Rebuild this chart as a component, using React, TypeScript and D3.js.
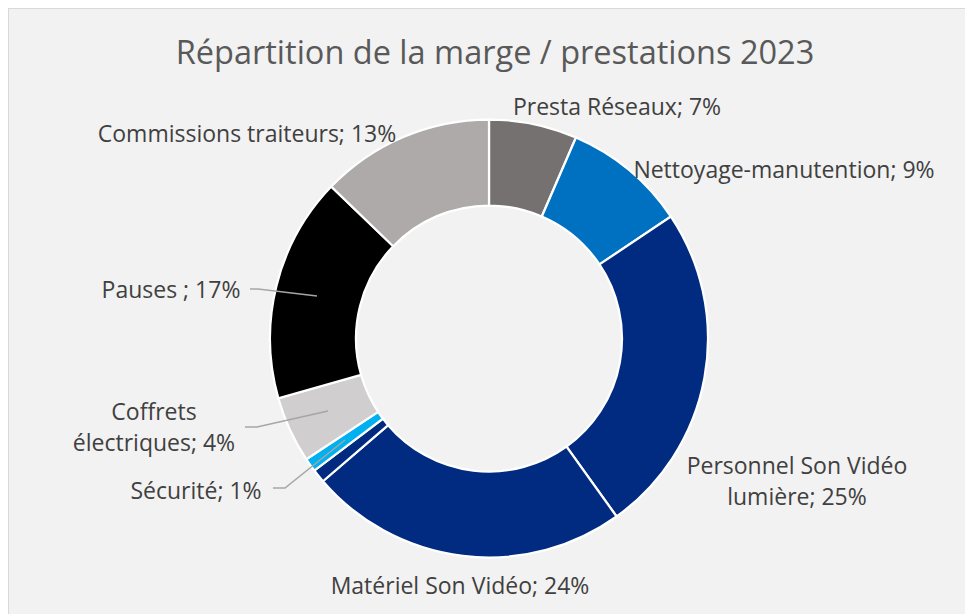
import React from "react";
import * as d3 from "d3";

const categories = [
  "Presta Réseaux",
  "Nettoyage-manutention",
  "Personnel Son Vidéo lumière",
  "Matériel Son Vidéo",
  "Autre",
  "Sécurité",
  "Coffrets électriques",
  "Pauses ",
  "Commissions traiteurs",
];
const values = [6.5, 9.1, 24.5, 23.6, 1.0, 1.0, 4.9, 16.6, 12.8];
const percentLabels = ["7%", "9%", "25%", "24%", "", "1%", "4%", "17%", "13%"];
const colors = [
  "#767171",
  "#0070C0",
  "#002B80",
  "#002B80",
  "#002B80",
  "#00B0F0",
  "#D0CECE",
  "#000000",
  "#AEAAAA",
];

const W = 965;
const H = 614;
const cx = 489;
const cy = 338.5;
const outerR = 219;
const innerR = 133;

type LabelLayout = {
  lines: string[];
  x: number;
  y: number;
  leader?: [number, number][];
};

const layouts: (LabelLayout | null)[] = [
  { lines: [`${categories[0]}; ${percentLabels[0]}`], x: 617, y: 115 },
  { lines: [`${categories[1]}; ${percentLabels[1]}`], x: 784, y: 178 },
  { lines: ["Personnel Son Vidéo", `lumière; ${percentLabels[2]}`], x: 797, y: 474 },
  { lines: [`${categories[3]}; ${percentLabels[3]}`], x: 460, y: 594 },
  null,
  {
    lines: [`${categories[5]}; ${percentLabels[5]}`],
    x: 196,
    y: 499,
    leader: [[273, 488], [285, 488], [345, 440]],
  },
  {
    lines: ["Coffrets", `électriques; ${percentLabels[6]}`],
    x: 154,
    y: 420,
    leader: [[245, 427], [257, 427], [328, 411]],
  },
  {
    lines: [`${categories[7]}; ${percentLabels[7]}`],
    x: 171,
    y: 298,
    leader: [[250, 289], [258, 289], [317, 296]],
  },
  { lines: [`${categories[8]}; ${percentLabels[8]}`], x: 247, y: 142 },
];

export default function App() {
  const pie = d3
    .pie<number>()
    .sort(null)
    .value((d) => d)
    .startAngle(0)
    .endAngle(2 * Math.PI);
  const arcs = pie(values);
  const arc = d3
    .arc<d3.PieArcDatum<number>>()
    .innerRadius(innerR)
    .outerRadius(outerR);

  const labelFont = "'Open Sans', sans-serif";

  return (
    <svg
      width={W}
      height={H}
      style={{ position: "absolute", left: 0, top: 0, display: "block" }}
    >
      <rect x={0} y={0} width={W} height={H} fill="#ffffff" />
      <rect x={8.5} y={8.5} width={W + 10} height={H + 10} fill="#F2F2F2" stroke="#D9D9D9" strokeWidth={1} />
      <text
        x={495}
        y={64}
        textAnchor="middle"
        fill="#595959"
        fontFamily={labelFont}
        fontSize={32.5}
      >
        Répartition de la marge / prestations 2023
      </text>
      <g transform={`translate(${cx},${cy})`}>
        {arcs.map((a, i) => (
          <path
            key={i}
            d={arc(a) || ""}
            fill={colors[i]}
            stroke="#ffffff"
            strokeWidth={2.25}
          />
        ))}
      </g>
      {layouts.map((l, i) =>
        l ? (
          <g key={i}>
            {l.leader && (
              <polyline
                points={l.leader.map((p) => p.join(",")).join(" ")}
                fill="none"
                stroke="#A6A6A6"
                strokeWidth={1.5}
              />
            )}
            <text
              x={l.x}
              y={l.y}
              textAnchor="middle"
              fill="#404040"
              fontFamily={labelFont}
              fontSize={23}
            >
              {l.lines.map((ln, j) => (
                <tspan key={j} x={l.x} dy={j === 0 ? 0 : 31}>
                  {ln}
                </tspan>
              ))}
            </text>
          </g>
        ) : null
      )}
    </svg>
  );
}
